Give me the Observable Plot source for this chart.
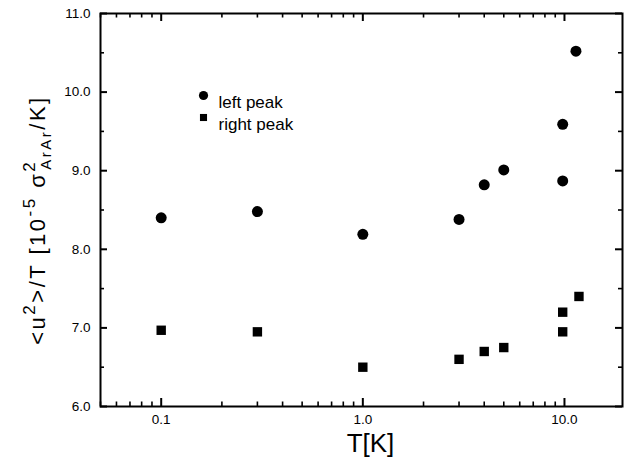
<!DOCTYPE html>
<html><head>
<meta charset="utf-8">
<script src="https://cdn.jsdelivr.net/npm/d3@7"></script>
<script src="https://cdn.jsdelivr.net/npm/@observablehq/plot@0.6"></script>
<style>body{margin:0;background:#fff}</style>
</head><body><div id="chart"></div>
<script>
const leftT = [0.1, 0.3, 1.0, 3, 4, 5, 9.8, 9.8, 11.4];
const leftVal = [8.40, 8.48, 8.19, 8.38, 8.82, 9.01, 8.87, 9.59, 10.52];
const rightT = [0.1, 0.3, 1.0, 3, 4, 5, 9.8, 9.8, 11.8];
const rightVal = [6.97, 6.95, 6.50, 6.60, 6.70, 6.75, 6.95, 7.20, 7.40];
const xMajor = [0.1, 1, 10];
const xMinor = [0.05,0.06,0.07,0.08,0.09,0.2,0.3,0.4,0.5,0.6,0.7,0.8,0.9,2,3,4,5,6,7,8,9];
const yMajor = [6, 7, 8, 9, 10, 11];
const yMinor = [6.5, 7.5, 8.5, 9.5, 10.5];
const legendLabels = ["left peak", "right peak"];

const W = 634, H = 460, ML = 100, MR = 12, MT = 13, MB = 54;
const FW = W - ML - MR, FH = H - MT - MB;

const left = leftT.map((t, i) => ({T: t, v: leftVal[i]}));
const right = rightT.map((t, i) => ({T: t, v: rightVal[i]}));
const font = "Liberation Sans, Arial, Helvetica, sans-serif";

// inward tick marks drawn with tickX / tickY, trimmed with insets
const tx = (ticks, len, sw, side) => Plot.tickX(ticks, {x: d => d, stroke: "#000", strokeWidth: sw,
  insetTop: side === "bottom" ? FH - len : 0, insetBottom: side === "top" ? FH - len : 0});
const ty = (ticks, len, sw, side) => Plot.tickY(ticks, {y: d => d, stroke: "#000", strokeWidth: sw,
  insetRight: side === "left" ? FW - len : 0, insetLeft: side === "right" ? FW - len : 0});

const chart = Plot.plot({
  width: W, height: H,
  marginLeft: ML, marginRight: MR, marginTop: MT, marginBottom: MB,
  style: {fontFamily: font, background: "#fff", color: "#000"},
  x: {type: "log", domain: [0.05, 19.4]},
  y: {domain: [6, 11]},
  marks: [
    Plot.axisX({anchor: "bottom", ticks: xMajor, tickSize: 0, tickPadding: 8, tickFormat: d => d.toFixed(1), fontSize: 13.5, label: null}),
    Plot.axisY({anchor: "left", ticks: yMajor, tickSize: 0, tickPadding: 10, tickFormat: d => d.toFixed(1), fontSize: 13.5, label: null}),
    tx(xMajor, 8, 2, "bottom"),
    tx(xMinor, 4.5, 1.6, "bottom"),
    tx(xMajor, 8, 2, "top"),
    tx(xMinor, 4.5, 1.6, "top"),
    ty(yMajor, 7, 2, "left"),
    ty(yMinor, 4, 1.6, "left"),
    ty(yMajor, 7, 2, "right"),
    ty(yMinor, 4, 1.6, "right"),
    Plot.frame({stroke: "#000", strokeWidth: 2}),
    Plot.dot(left, {x: "T", y: "v", r: 5.5, fill: "#000", symbol: "circle"}),
    Plot.dot(right, {x: "T", y: "v", r: 5.3, fill: "#000", symbol: "square"}),
    Plot.dot([legendLabels[0]], {frameAnchor: "top-left", dx: 103, dy: 82, r: 4.6, fill: "#000", symbol: "circle"}),
    Plot.dot([legendLabels[1]], {frameAnchor: "top-left", dx: 103, dy: 104, r: 4, fill: "#000", symbol: "square"}),
    Plot.text([legendLabels[0]], {text: d => d, frameAnchor: "top-left", dx: 118, dy: 82, textAnchor: "start", fontSize: 17, fill: "#000"}),
    Plot.text([legendLabels[1]], {text: d => d, frameAnchor: "top-left", dx: 118, dy: 104, textAnchor: "start", fontSize: 17, fill: "#000"}),
    Plot.text(["T[K]"], {text: d => d, frameAnchor: "bottom", dx: 9, dy: 45, fontSize: 26, fill: "#000", lineAnchor: "bottom", style: {letterSpacing: "2px"}})
  ]
});
document.getElementById("chart").appendChild(chart);

// rotated y-axis label with super/subscripts
const svg = d3.select(chart);
const yl = svg.append("text")
  .attr("transform", "translate(45,220) rotate(-90)")
  .attr("text-anchor", "middle")
  .attr("font-family", font)
  .attr("font-size", 22)
  .attr("letter-spacing", "2.5px")
  .attr("fill", "#000");
const parts = [
  {t: "<u", fs: 22, dy: 0},
  {t: "2", fs: 17, dy: -10},
  {t: ">/T [10", fs: 22, dy: 10},
  {t: "-5", fs: 17, dy: -10},
  {t: " σ", fs: 22, dy: 10},
  {t: "2", fs: 17, dy: -10},
  {t: "ArAr", fs: 15, dy: 16, dx: -10},
  {t: "/K]", fs: 22, dy: -6}
];
parts.forEach(p => {
  const ts = yl.append("tspan").attr("font-size", p.fs).attr("dy", p.dy).text(p.t);
  if (p.dx) ts.attr("dx", p.dx);
});
</script>
</body></html>
